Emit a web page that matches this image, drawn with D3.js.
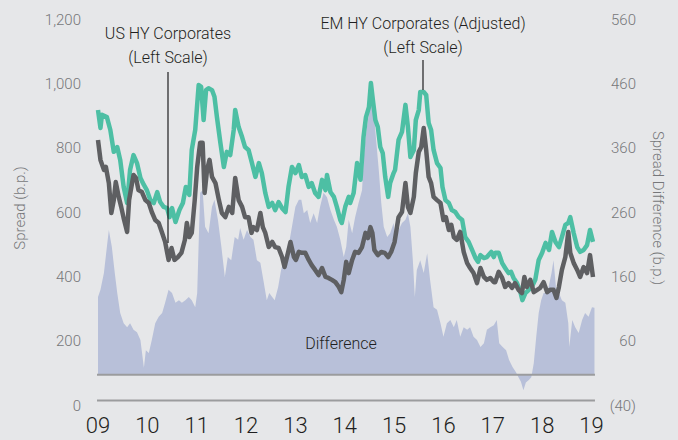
<!DOCTYPE html>
<html>
<head>
<meta charset="utf-8">
<script src="https://cdn.jsdelivr.net/npm/d3@7"></script>
<style>
  html, body { margin: 0; padding: 0; background: #e6e7e9; }
  svg { display: block; font-family: "Roboto", "Noto Sans", sans-serif; font-weight: 300; }
</style>
</head>
<body>
<svg id="chart" width="678" height="440"></svg>
<script>
// EM HY Corporates (Adjusted), left scale, b.p. [year, spread]
const emSpread = [
  [2009.00,903],[2009.05,847],[2009.08,888],[2009.18,881],[2009.25,841],[2009.32,773],[2009.39,788],[2009.45,748],
  [2009.52,664],[2009.59,614],[2009.65,717],[2009.72,763],[2009.79,738],[2009.86,692],[2009.93,670],[2009.99,654],
  [2010.06,623],[2010.13,614],[2010.20,648],[2010.26,617],[2010.33,602],[2010.40,598],[2010.45,570],[2010.50,598],
  [2010.57,555],[2010.65,592],[2010.72,614],[2010.78,664],[2010.85,639],[2010.90,779],[2010.97,841],[2011.04,981],
  [2011.09,975],[2011.14,872],[2011.19,965],[2011.24,971],[2011.31,965],[2011.36,944],[2011.41,881],[2011.48,801],
  [2011.55,726],[2011.61,773],[2011.68,763],[2011.75,841],[2011.78,903],[2011.85,850],[2011.92,819],[2011.98,788],
  [2012.05,779],[2012.12,738],[2012.19,695],[2012.26,738],[2012.32,707],[2012.39,645],[2012.46,602],[2012.53,614],
  [2012.59,592],[2012.66,617],[2012.73,598],[2012.80,586],[2012.86,664],[2012.93,726],[2013.00,707],[2013.07,732],
  [2013.13,695],[2013.20,701],[2013.27,664],[2013.33,676],[2013.40,645],[2013.47,633],[2013.54,686],[2013.61,654],
  [2013.64,701],[2013.71,648],[2013.78,633],[2013.84,602],[2013.91,561],[2013.94,552],[2014.01,602],[2014.08,633],
  [2014.11,614],[2014.18,645],[2014.25,738],[2014.32,686],[2014.38,819],[2014.43,881],[2014.49,912],[2014.53,987],
  [2014.57,934],[2014.62,872],[2014.67,850],[2014.72,788],[2014.77,769],[2014.82,695],[2014.88,633],[2014.92,676],
  [2014.99,707],[2015.02,717],[2015.09,810],[2015.16,835],[2015.23,919],[2015.28,850],[2015.33,757],[2015.40,779],
  [2015.44,872],[2015.50,903],[2015.53,959],[2015.60,959],[2015.65,950],[2015.70,863],[2015.75,841],[2015.80,779],
  [2015.87,738],[2015.94,723],[2015.98,664],[2016.04,623],[2016.11,614],[2016.17,592],[2016.24,586],[2016.31,570],
  [2016.38,561],[2016.44,508],[2016.51,493],[2016.58,468],[2016.65,443],[2016.70,431],[2016.75,452],[2016.82,443],
  [2016.88,446],[2016.97,462],[2017.02,446],[2017.05,459],[2017.12,459],[2017.19,427],[2017.25,412],[2017.32,396],
  [2017.37,400],[2017.42,381],[2017.49,365],[2017.56,337],[2017.60,312],[2017.66,334],[2017.73,344],[2017.79,353],
  [2017.86,375],[2017.93,437],[2018.00,459],[2018.07,490],[2018.14,468],[2018.20,524],[2018.27,493],[2018.34,477],
  [2018.40,508],[2018.47,546],[2018.53,552],[2018.57,570],[2018.64,520],[2018.71,477],[2018.77,462],[2018.84,468],
  [2018.91,483],[2018.97,530],[2019.03,493]
];

// US HY Corporates, left scale, b.p.
const usSpread = [
  [2009.00,810],[2009.05,748],[2009.12,717],[2009.16,726],[2009.22,676],[2009.27,583],[2009.32,623],[2009.36,679],
  [2009.42,633],[2009.47,602],[2009.52,567],[2009.59,524],[2009.63,623],[2009.69,676],[2009.72,701],[2009.77,692],
  [2009.82,654],[2009.89,648],[2009.96,623],[2010.03,614],[2010.09,586],[2010.16,561],[2010.23,552],[2010.30,521],
  [2010.36,493],[2010.43,437],[2010.49,474],[2010.55,437],[2010.62,446],[2010.69,459],[2010.76,499],[2010.80,552],
  [2010.85,508],[2010.90,521],[2010.96,623],[2011.01,726],[2011.07,801],[2011.12,801],[2011.16,645],[2011.21,717],
  [2011.26,748],[2011.31,695],[2011.38,676],[2011.45,623],[2011.51,583],[2011.58,570],[2011.65,602],[2011.72,583],
  [2011.78,692],[2011.85,623],[2011.92,602],[2011.98,570],[2012.05,570],[2012.11,521],[2012.15,539],[2012.22,530],
  [2012.29,583],[2012.34,539],[2012.39,521],[2012.46,477],[2012.53,493],[2012.59,477],[2012.66,474],[2012.73,446],
  [2012.78,415],[2012.83,446],[2012.90,493],[2012.97,446],[2013.01,437],[2013.07,462],[2013.13,459],[2013.20,459],
  [2013.27,437],[2013.33,421],[2013.40,406],[2013.47,390],[2013.54,412],[2013.61,384],[2013.67,381],[2013.74,375],
  [2013.81,368],[2013.88,353],[2013.93,337],[2013.98,375],[2014.03,431],[2014.08,396],[2014.15,437],[2014.21,462],
  [2014.28,459],[2014.35,477],[2014.42,521],[2014.47,505],[2014.52,539],[2014.56,521],[2014.60,468],[2014.67,452],
  [2014.74,462],[2014.81,459],[2014.88,446],[2014.94,462],[2015.01,493],[2015.09,570],[2015.16,586],[2015.23,676],
  [2015.28,602],[2015.33,583],[2015.40,633],[2015.44,707],[2015.50,773],[2015.55,788],[2015.60,847],[2015.65,779],
  [2015.70,695],[2015.75,676],[2015.80,633],[2015.87,623],[2015.94,614],[2016.00,561],[2016.05,570],[2016.11,530],
  [2016.16,546],[2016.21,508],[2016.27,499],[2016.34,524],[2016.41,462],[2016.48,427],[2016.54,412],[2016.61,396],
  [2016.68,365],[2016.75,412],[2016.82,384],[2016.88,375],[2016.95,381],[2017.02,368],[2017.05,368],[2017.12,400],
  [2017.19,381],[2017.25,353],[2017.32,365],[2017.39,350],[2017.45,365],[2017.52,344],[2017.59,334],[2017.64,384],
  [2017.69,353],[2017.76,375],[2017.83,337],[2017.90,344],[2017.96,350],[2018.03,368],[2018.10,337],[2018.16,344],
  [2018.23,344],[2018.29,319],[2018.34,353],[2018.40,406],[2018.47,446],[2018.53,524],[2018.57,459],[2018.64,427],
  [2018.71,406],[2018.77,384],[2018.84,415],[2018.91,396],[2018.97,452],[2019.03,384]
];

// Difference (EM - US), right scale, b.p.
const spreadDiff = [
  [2009.00,121],[2009.05,132],[2009.12,158],[2009.18,199],[2009.22,225],[2009.28,199],[2009.34,158],[2009.39,127],
  [2009.45,96],[2009.52,80],[2009.59,74],[2009.65,80],[2009.72,70],[2009.79,66],[2009.86,54],[2009.93,11],
  [2009.97,38],[2010.03,34],[2010.09,54],[2010.16,80],[2010.23,90],[2010.30,96],[2010.36,112],[2010.43,132],
  [2010.50,127],[2010.57,112],[2010.64,116],[2010.70,112],[2010.77,116],[2010.84,121],[2010.90,116],[2010.97,105],
  [2011.01,127],[2011.07,283],[2011.12,287],[2011.17,230],[2011.24,220],[2011.31,261],[2011.36,272],[2011.43,241],
  [2011.50,199],[2011.57,152],[2011.63,183],[2011.70,178],[2011.77,214],[2011.84,210],[2011.88,228],[2011.95,210],
  [2012.02,225],[2012.09,214],[2012.15,210],[2012.22,178],[2012.29,174],[2012.36,143],[2012.42,116],[2012.47,127],
  [2012.53,121],[2012.58,116],[2012.65,136],[2012.71,163],[2012.78,183],[2012.86,199],[2012.93,230],[2013.00,261],
  [2013.07,272],[2013.12,272],[2013.17,251],[2013.24,256],[2013.30,236],[2013.37,251],[2013.44,236],[2013.50,261],
  [2013.57,283],[2013.64,276],[2013.71,256],[2013.78,241],[2013.84,230],[2013.91,210],[2013.98,183],[2014.03,199],
  [2014.08,241],[2014.15,220],[2014.21,245],[2014.28,267],[2014.35,287],[2014.40,354],[2014.45,385],[2014.50,412],
  [2014.54,432],[2014.59,407],[2014.63,370],[2014.69,318],[2014.74,267],[2014.79,230],[2014.86,214],[2014.92,220],
  [2014.99,236],[2015.02,214],[2015.09,225],[2015.16,236],[2015.23,241],[2015.28,251],[2015.33,230],[2015.38,178],
  [2015.42,121],[2015.46,163],[2015.53,178],[2015.60,158],[2015.67,189],[2015.73,147],[2015.80,105],[2015.87,101],
  [2015.94,80],[2016.00,59],[2016.07,80],[2016.14,85],[2016.21,74],[2016.27,85],[2016.34,59],[2016.41,74],
  [2016.48,70],[2016.54,74],[2016.61,59],[2016.68,54],[2016.75,43],[2016.82,49],[2016.88,70],[2016.95,74],
  [2017.02,77],[2017.08,85],[2017.13,49],[2017.20,43],[2017.27,38],[2017.33,23],[2017.40,12],[2017.47,4],
  [2017.52,-4],[2017.57,-11],[2017.62,-24],[2017.67,-12],[2017.73,-8],[2017.78,-4],[2017.83,18],[2017.88,59],
  [2017.93,96],[2017.98,116],[2018.03,127],[2018.08,127],[2018.13,136],[2018.19,158],[2018.23,178],[2018.28,136],
  [2018.34,127],[2018.40,116],[2018.47,112],[2018.53,80],[2018.55,43],[2018.61,85],[2018.67,74],[2018.74,65],
  [2018.81,85],[2018.87,96],[2018.94,90],[2019.01,105],[2019.06,104]
];

const yearTicks = [2009, 2010, 2011, 2012, 2013, 2014, 2015, 2016, 2017, 2018, 2019];
const leftTicks = [0, 200, 400, 600, 800, 1000, 1200];
const rightTicks = [-40, 60, 160, 260, 360, 460, 560];

const svg = d3.select('#chart');

const x = d3.scaleLinear().domain([2009, 2019]).range([98, 591.5]);
const yLeft = d3.scaleLinear().domain([0, 1200]).range([400.5, 14.5]);
const yRight = d3.scaleLinear().domain([-40, 560]).range([400.5, 14.5]);

const xStart = 2008.98, xEnd = 2019.07;

// difference area, filled from the zero line of the right scale
const area = d3.area()
  .x(d => x(d[0]))
  .y0(yRight(0))
  .y1(d => yRight(d[1]));

svg.append('path')
  .datum(spreadDiff)
  .attr('d', area)
  .attr('fill', '#b8c0d9');

// zero line (right) and bottom line
[yRight(0), yLeft(0)].forEach(yy => {
  svg.append('line')
    .attr('x1', x(xStart)).attr('x2', x(xEnd))
    .attr('y1', yy).attr('y2', yy)
    .attr('stroke', '#9b9c9e')
    .attr('stroke-width', 2);
});

const line = d3.line()
  .x(d => x(d[0]))
  .y(d => yLeft(d[1]));

svg.append('path')
  .datum(emSpread)
  .attr('d', line)
  .attr('fill', 'none')
  .attr('stroke', '#4dbfa4')
  .attr('stroke-width', 4.5)
  .attr('stroke-linejoin', 'round');

svg.append('path')
  .datum(usSpread)
  .attr('d', line)
  .attr('fill', 'none')
  .attr('stroke', '#5e5f62')
  .attr('stroke-width', 4.5)
  .attr('stroke-linejoin', 'round');

// left axis labels
const fmtLeft = d3.format(',');
svg.append('g')
  .selectAll('text')
  .data(leftTicks)
  .enter()
  .append('text')
  .attr('x', 81)
  .attr('y', d => yLeft(d) + 10)
  .attr('text-anchor', 'end')
  .attr('font-size', 15)
  .attr('fill', '#76777a')
  .text(d => fmtLeft(d));

// right axis labels
svg.append('g')
  .selectAll('text')
  .data(rightTicks)
  .enter()
  .append('text')
  .attr('x', 636)
  .attr('y', d => yRight(d) + 10)
  .attr('text-anchor', 'end')
  .attr('font-size', 15)
  .attr('fill', '#76777a')
  .text(d => d < 0 ? '(' + Math.abs(d) + ')' : d);

// year labels
svg.append('g')
  .selectAll('text')
  .data(yearTicks)
  .enter()
  .append('text')
  .attr('x', d => x(d))
  .attr('y', 433)
  .attr('text-anchor', 'middle')
  .attr('font-size', 22)
  .attr('fill', '#1f1f21')
  .text(d => String(d % 100).padStart(2, '0'));

// axis titles
svg.append('text')
  .attr('transform', 'translate(25,208) rotate(-90)')
  .attr('text-anchor', 'middle')
  .attr('font-size', 15)
  .attr('fill', '#76777a')
  .text('Spread (b.p.)');

svg.append('text')
  .attr('transform', 'translate(653,208) rotate(90)')
  .attr('text-anchor', 'middle')
  .attr('font-size', 15)
  .attr('fill', '#76777a')
  .text('Spread Difference (b.p.)');

// annotations
const notes = [
  {lines: ['US HY Corporates', '(Left Scale)'], cx: 168, top: 39, lineTop: 72, lineEnd: 243},
  {lines: ['EM HY Corporates (Adjusted)', '(Left Scale)'], cx: 423, top: 29, lineTop: 60, lineEnd: 90}
];
notes.forEach(n => {
  n.lines.forEach((t, i) => {
    svg.append('text')
      .attr('x', n.cx)
      .attr('y', n.top + i * 24)
      .attr('text-anchor', 'middle')
      .attr('font-size', 16)
      .attr('fill', '#1f1f21')
      .text(t);
  });
  svg.append('line')
    .attr('x1', n.cx).attr('x2', n.cx)
    .attr('y1', n.lineTop).attr('y2', n.lineEnd)
    .attr('stroke', '#1f1f21')
    .attr('stroke-width', 1.2);
});

svg.append('text')
  .attr('x', 341)
  .attr('y', 349)
  .attr('text-anchor', 'middle')
  .attr('font-size', 16)
  .attr('fill', '#1f1f21')
  .text('Difference');
</script>
</body>
</html>
